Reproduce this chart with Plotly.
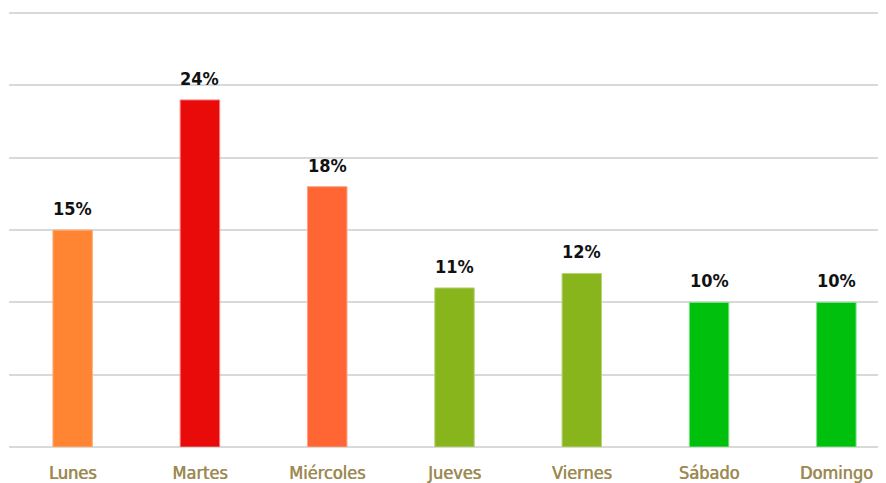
import plotly.graph_objects as go

dias = ["Lunes", "Martes", "Miércoles", "Jueves", "Viernes", "Sábado", "Domingo"]
valores = [15, 24, 18, 11, 12, 10, 10]
etiquetas = ["15%", "24%", "18%", "11%", "12%", "10%", "10%"]
colores = ["#FF8533", "#E90A0A", "#FF6633", "#88B41C", "#88B41C", "#00C00E", "#00C00E"]
bordes = ["#FFB080", "#F47C7C", "#FF9E80", "#B8D478", "#B8D478", "#7FE087", "#7FE087"]

FONT = "DejaVu Sans Condensed, Liberation Sans Narrow, Liberation Sans"
TICK_COLOR = "#9C8A52"

fig = go.Figure(go.Bar(
    x=dias, y=valores,
    marker=dict(color=colores, line=dict(color=bordes, width=1)),
    width=0.31,
))

for d, v, t in zip(dias, valores, etiquetas):
    fig.add_annotation(x=d, y=v, text=t, showarrow=False, yanchor="bottom", yshift=9,
                       font=dict(family=FONT, size=18, color="#111111", weight="bold"))

fig.update_layout(
    width=878, height=475,
    margin=dict(l=1, r=0, t=3, b=36),
    plot_bgcolor="white", paper_bgcolor="white",
    showlegend=False,
    xaxis=dict(range=[-0.5, 6.39], showgrid=False, showline=False, ticks="", automargin=False,
               ticklabelstandoff=13,
               tickfont=dict(family=FONT, size=18, color=TICK_COLOR,
                             shadow=f"0.6px 0 0 {TICK_COLOR}")),
    yaxis=dict(range=[0, 30.15], dtick=5, showgrid=True, gridcolor="#D9D9D9", gridwidth=2,
               automargin=False,
               showticklabels=False, zeroline=True, zerolinecolor="#D9D9D9", zerolinewidth=2),
)

fig.write_html("out.html")
